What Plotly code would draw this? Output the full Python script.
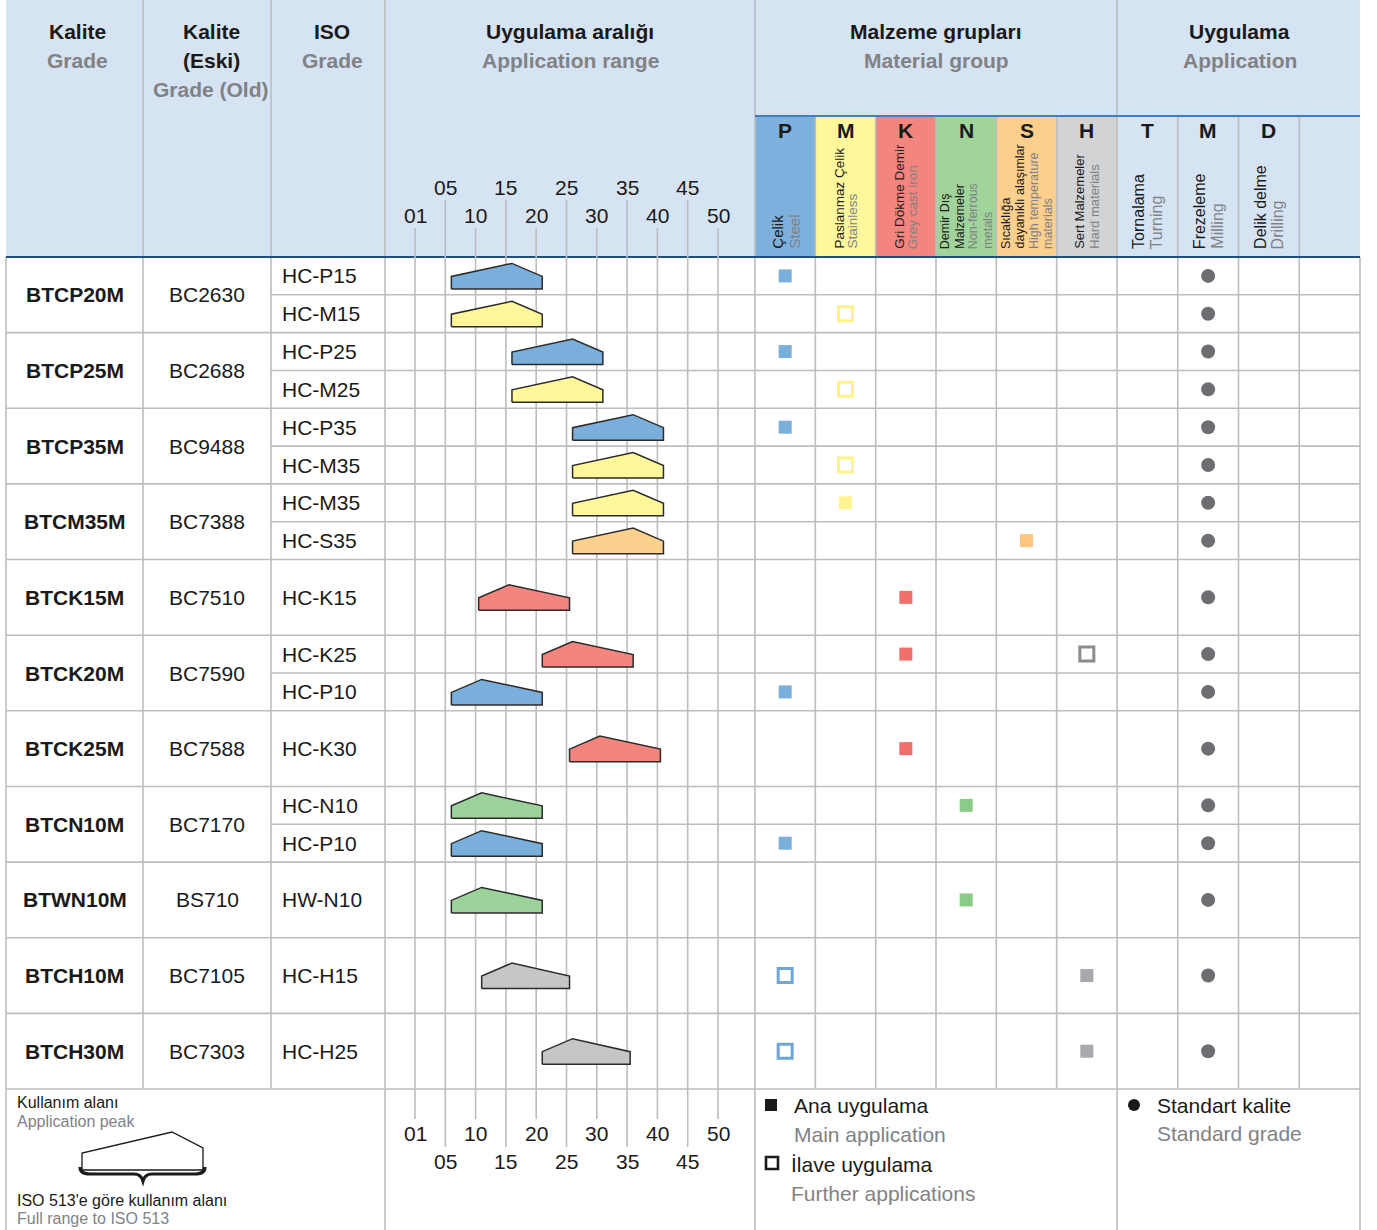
import plotly.graph_objects as go

# ---------------- data ----------------
grades = ["BTCP20M", "BTCP25M", "BTCP35M", "BTCM35M", "BTCK15M", "BTCK20M",
          "BTCK25M", "BTCN10M", "BTWN10M", "BTCH10M", "BTCH30M"]
old_grades = ["BC2630", "BC2688", "BC9488", "BC7388", "BC7510", "BC7590",
              "BC7588", "BC7170", "BS710", "BC7105", "BC7303"]
grade_iso = [["HC-P15", "HC-M15"], ["HC-P25", "HC-M25"], ["HC-P35", "HC-M35"],
             ["HC-M35", "HC-S35"], ["HC-K15"], ["HC-K25", "HC-P10"], ["HC-K30"],
             ["HC-N10", "HC-P10"], ["HW-N10"], ["HC-H15"], ["HC-H25"]]

# application range per ISO row (scale units, 01 = 0)
range_start = [6, 6, 16, 16, 26, 26, 26, 26, 10.5, 21, 6, 25.5, 6, 6, 6, 11, 21]
range_peak = [16, 16, 26, 26, 36, 36, 36, 36, 15.5, 26, 11, 30.5, 11, 11, 11, 16, 26]
range_end = [21, 21, 31, 31, 41, 41, 41, 41, 25.5, 36, 21, 40.5, 21, 21, 21, 25.5, 35.5]
range_group = ["P", "M", "P", "M", "P", "M", "M", "S", "K", "K", "P", "K", "N", "P", "N", "H", "H"]

main_app = [["P"], [], ["P"], [], ["P"], [], ["M"], ["S"], ["K"], ["K"], ["P"], ["K"],
            ["N"], ["P"], ["N"], ["H"], ["H"]]
further_app = [[], ["M"], [], ["M"], [], ["M"], [], [], [], ["H"], [], [], [], [], [], ["P"], ["P"]]
standard_app = ["M"] * 17

scale_values = [0, 5, 10, 15, 20, 25, 30, 35, 40, 45, 50]
scale_labels = ["01", "05", "10", "15", "20", "25", "30", "35", "40", "45", "50"]

mat_letters = ["P", "M", "K", "N", "S", "H"]
mat_tr = [["Çelik"], ["Paslanmaz Çelik"], ["Gri Dökme Demir"], ["Demir Dış", "Malzemeler"],
          ["Sıcaklığa", "dayanıklı alaşımlar"], ["Sert Malzemeler"]]
mat_en = [["Steel"], ["Stainless"], ["Grey cast iron"], ["Non-ferrous", "metals"],
          ["High temperature", "materials"], ["Hard materials"]]
app_letters = ["T", "M", "D"]
app_tr = ["Tornalama", "Frezeleme", "Delik delme"]
app_en = ["Turning", "Milling", "Drilling"]

hdr_tr = [["Kalite"], ["Kalite", "(Eski)"], ["ISO"], ["Uygulama aralığı"], ["Malzeme grupları"], ["Uygulama"]]
hdr_en = [["Grade"], ["Grade (Old)"], ["Grade"], ["Application range"], ["Material group"], ["Application"]]

# ---------------- styles / geometry ----------------
W, H = 1377, 1230
FONT = "Liberation Sans, Arial, Helvetica, sans-serif"
BLACK = "#1a1a1a"
GRAY = "#808285"
GRID = "#BDBDBD"
HDR_BG = "#D5E3F3"
C = [6, 143, 271, 385, 755, 1117, 1360]
MAT_W = (C[5] - C[4]) / 6
APP_W = (C[6] - C[5]) / 4
HDR_MID = 116
BODY_TOP = 257
FOOT_TOP = 1089
UNIT = (FOOT_TOP - BODY_TOP) / 22
PX0 = 415
PX_PER = (718 - 415) / 50

mat_bg = {"P": "#7DB0DC", "M": "#FFF799", "K": "#F3857E", "N": "#A0D49B", "S": "#FDCF8D", "H": "#D1D3D4"}
shape_fill = {"P": "#7AAFDB", "M": "#FFF799", "K": "#F4847E", "N": "#9DD39A", "S": "#FCD08D", "H": "#C6C6C6"}
mark_fill = {"P": "#7AAFDB", "M": "#FFF38F", "K": "#EF706B", "N": "#8BCB87", "S": "#FDC77D", "H": "#A7A9AC"}
mark_open = {"P": "#6FA6D8", "M": "#FFF38A", "H": "#8C8C8C"}

fig = go.Figure()
shapes = []
ann = []


def line(x0, y0, x1, y1, color=GRID, width=1.6, xref="x"):
    shapes.append(dict(type="line", x0=x0, y0=y0, x1=x1, y1=y1, xref=xref, yref="y",
                       line=dict(color=color, width=width), layer="below"))


def text(x, y, s, size=21, color=BLACK, bold=False, xanchor="center", yanchor="middle", xref="x", **kw):
    if bold:
        s = "<b>" + s + "</b>"
    ann.append(dict(x=x, y=y, xref=xref, yref="y", text=s, showarrow=False,
                    font=dict(family=FONT, size=size, color=color),
                    xanchor=xanchor, yanchor=yanchor, **kw))


# header backgrounds
shapes.append(dict(type="rect", x0=C[0], x1=C[6], y0=0, y1=BODY_TOP, xref="x", yref="y",
                   fillcolor=HDR_BG, line=dict(width=0), layer="below"))
for i, m in enumerate(mat_letters):
    shapes.append(dict(type="rect", x0=C[4] + i * MAT_W, x1=C[4] + (i + 1) * MAT_W, y0=HDR_MID, y1=BODY_TOP,
                       xref="x", yref="y", fillcolor=mat_bg[m], line=dict(width=0), layer="below"))

# header column titles
centers = [(C[i] + C[i + 1]) / 2 for i in range(6)]
hdr_shift = [3, 4, 4, 0, 0, 1]
for i in range(6):
    lines = [(t, BLACK) for t in hdr_tr[i]] + [(t, GRAY) for t in hdr_en[i]]
    for j, (t, col) in enumerate(lines):
        text(centers[i] + hdr_shift[i], 31 + 29 * j, t, size=21, color=col, bold=True)


def rotated_block(cx, lines, size, spacing):
    n = len(lines)
    for j, (t, col) in enumerate(lines):
        x = cx + (j - (n - 1) / 2) * spacing
        text(x, 251, t, size=size, color=col, yanchor="bottom", textangle=-90)


# material sub-headers
mat_size = [15, 13.5, 13.5, 12.5, 12.5, 13]
mat_spacing = [17, 13, 13, 14, 14, 15]
for i, m in enumerate(mat_letters):
    cx = C[4] + (i + 0.5) * MAT_W
    text(cx, 130, m, size=21, bold=True)
    lines = [(t, BLACK) for t in mat_tr[i]] + [(t, GRAY) for t in mat_en[i]]
    rotated_block(cx, lines, mat_size[i], mat_spacing[i])
for i, a in enumerate(app_letters):
    cx = C[5] + (i + 0.5) * APP_W
    text(cx, 130, a, size=21, bold=True)
    rotated_block(cx, [(app_tr[i], BLACK), (app_en[i], GRAY)], 16, 18)

# header vertical lines
for x in C[1:6]:
    line(x, 0, x, BODY_TOP)
for i in range(1, 6):
    line(C[4] + i * MAT_W, HDR_MID, C[4] + i * MAT_W, BODY_TOP)
for i in range(1, 4):
    line(C[5] + i * APP_W, HDR_MID, C[5] + i * APP_W, BODY_TOP)
line(C[4], HDR_MID, C[6], HDR_MID, color="#3F7EC2", width=2)

# scale labels (header and footer)
for k, (v, lab) in enumerate(zip(scale_values, scale_labels)):
    if k % 2 == 0:
        text(v, 215, lab, size=21, xref="x2")
        line(v, 228, v, BODY_TOP, xref="x2")
        text(v, 1133, lab, size=21, xref="x2")
        line(v, FOOT_TOP, v, 1119, xref="x2")
    else:
        text(v, 187, lab, size=21, xref="x2")
        line(v, 200, v, BODY_TOP, xref="x2")
        text(v, 1161, lab, size=21, xref="x2")
        line(v, FOOT_TOP, v, 1147, xref="x2")

# ---------------- body ----------------
row_c = []
y = BODY_TOP
for g, (gname, old, isos) in enumerate(zip(grades, old_grades, grade_iso)):
    n = len(isos)
    h = 2 * UNIT
    y0 = y
    text(centers[0], y0 + h / 2, gname, size=21, bold=True)
    text(centers[1], y0 + h / 2, old, size=21)
    sub_h = h / n
    for j, iso in enumerate(isos):
        cy = y0 + sub_h * (j + 0.5)
        row_c.append(cy)
        text(C[2] + 9, cy, iso, size=21, xanchor="left")
        if j > 0:
            line(C[2], y0 + sub_h * j, C[6], y0 + sub_h * j)
    y = y0 + h
    if g < len(grades) - 1:
        line(C[0], y, C[6], y)

# body vertical lines
for x in C[:7]:
    line(x, BODY_TOP, x, FOOT_TOP)
for i in range(1, 6):
    line(C[4] + i * MAT_W, BODY_TOP, C[4] + i * MAT_W, FOOT_TOP)
for i in range(1, 4):
    line(C[5] + i * APP_W, BODY_TOP, C[5] + i * APP_W, FOOT_TOP)
for v in scale_values:
    line(v, BODY_TOP, v, FOOT_TOP, xref="x2")

# header bottom rule and footer rule
line(C[0], BODY_TOP, C[6], BODY_TOP, color="#1F4E79", width=2.2)
line(C[0], FOOT_TOP, C[6], FOOT_TOP)

# application range polygons
for i in range(len(range_start)):
    s, p, e, cy = range_start[i], range_peak[i], range_end[i], row_c[i]
    fig.add_trace(go.Scatter(
        x=[s, s, p, e, e, s], y=[cy + 13, cy + 0.5, cy - 12.5, cy + 0.5, cy + 13, cy + 13],
        xaxis="x2", yaxis="y", mode="lines", fill="toself",
        fillcolor=shape_fill[range_group[i]], line=dict(color="#2b2b2b", width=1.5),
        hoverinfo="skip", showlegend=False))

# material markers
for m_i, m in enumerate(mat_letters):
    cx = C[4] + (m_i + 0.5) * MAT_W
    xs = [cx for r in range(len(row_c)) if m in main_app[r]]
    ys = [row_c[r] for r in range(len(row_c)) if m in main_app[r]]
    if xs:
        fig.add_trace(go.Scatter(x=xs, y=ys, mode="markers", showlegend=False, hoverinfo="skip",
                                 marker=dict(symbol="square", size=13, color=mark_fill[m], line=dict(width=0))))
    xs = [cx for r in range(len(row_c)) if m in further_app[r]]
    ys = [row_c[r] for r in range(len(row_c)) if m in further_app[r]]
    if xs:
        fig.add_trace(go.Scatter(x=xs, y=ys, mode="markers", showlegend=False, hoverinfo="skip",
                                 marker=dict(symbol="square-open", size=14, color=mark_open[m],
                                             line=dict(width=3, color=mark_open[m]))))

# standard application markers
for a_i, a in enumerate(app_letters):
    cx = C[5] + (a_i + 0.5) * APP_W
    ys = [row_c[r] for r in range(len(row_c)) if standard_app[r] == a]
    if ys:
        fig.add_trace(go.Scatter(x=[cx] * len(ys), y=ys, mode="markers", showlegend=False, hoverinfo="skip",
                                 marker=dict(symbol="circle", size=14, color="#6D6E71", line=dict(width=0))))

# ---------------- footer ----------------
for x in [C[0], C[3], C[4], C[5], C[6]]:
    line(x, FOOT_TOP, x, H)
text(15, 1102, "Kullanım alanı", size=16, xanchor="left")
text(15, 1121, "Application peak", size=16, color=GRAY, xanchor="left")
text(15, 1200, "ISO 513'e göre kullanım alanı", size=16, xanchor="left")
text(15, 1218, "Full range to ISO 513", size=16, color=GRAY, xanchor="left")
shapes.append(dict(type="path", path="M 82 1170 L 82 1153 L 172 1132 L 203 1148 L 203 1170 Z",
                   xref="x", yref="y", line=dict(color="#1a1a1a", width=1.3), fillcolor="white"))
shapes.append(dict(type="path",
                   path="M 80 1167 Q 80 1174 90 1174 L 134 1174 Q 141 1174 143 1181 Q 145 1174 152 1174 "
                        "L 195 1174 Q 205 1174 205 1167",
                   xref="x", yref="y", line=dict(color="#1a1a1a", width=3.2)))

shapes.append(dict(type="rect", x0=765, x1=777, y0=1099, y1=1111, xref="x", yref="y",
                   fillcolor="#1a1a1a", line=dict(width=0)))
shapes.append(dict(type="rect", x0=766, x1=778, y0=1157, y1=1169, xref="x", yref="y",
                   fillcolor="white", line=dict(color="#1a1a1a", width=2.6)))
shapes.append(dict(type="circle", x0=1128, x1=1140, y0=1099, y1=1111, xref="x", yref="y",
                   fillcolor="#1a1a1a", line=dict(width=0)))
text(792, 1105, "Ana uygulama", size=21, xanchor="left")
text(792, 1134, "Main application", size=21, color=GRAY, xanchor="left")
text(789, 1164, "İlave uygulama", size=21, xanchor="left")
text(789, 1193, "Further applications", size=21, color=GRAY, xanchor="left")
text(1155, 1105, "Standart kalite", size=21, xanchor="left")
text(1155, 1133, "Standard grade", size=21, color=GRAY, xanchor="left")

fig.update_layout(
    width=W, height=H, margin=dict(l=0, r=0, t=0, b=0),
    paper_bgcolor="white", plot_bgcolor="rgba(0,0,0,0)",
    xaxis=dict(range=[0, W], visible=False, fixedrange=True, domain=[0, 1]),
    yaxis=dict(range=[H, 0], visible=False, fixedrange=True, domain=[0, 1]),
    xaxis2=dict(range=[(C[3] - PX0) / PX_PER, (C[4] - PX0) / PX_PER], visible=False, fixedrange=True,
                domain=[C[3] / W, C[4] / W], anchor="y"),
    shapes=shapes, annotations=ann, showlegend=False,
)
fig.write_html("out.html", config={"displayModeBar": False},
               post_script="document.body.style.margin='0';document.body.style.overflow='hidden';")
